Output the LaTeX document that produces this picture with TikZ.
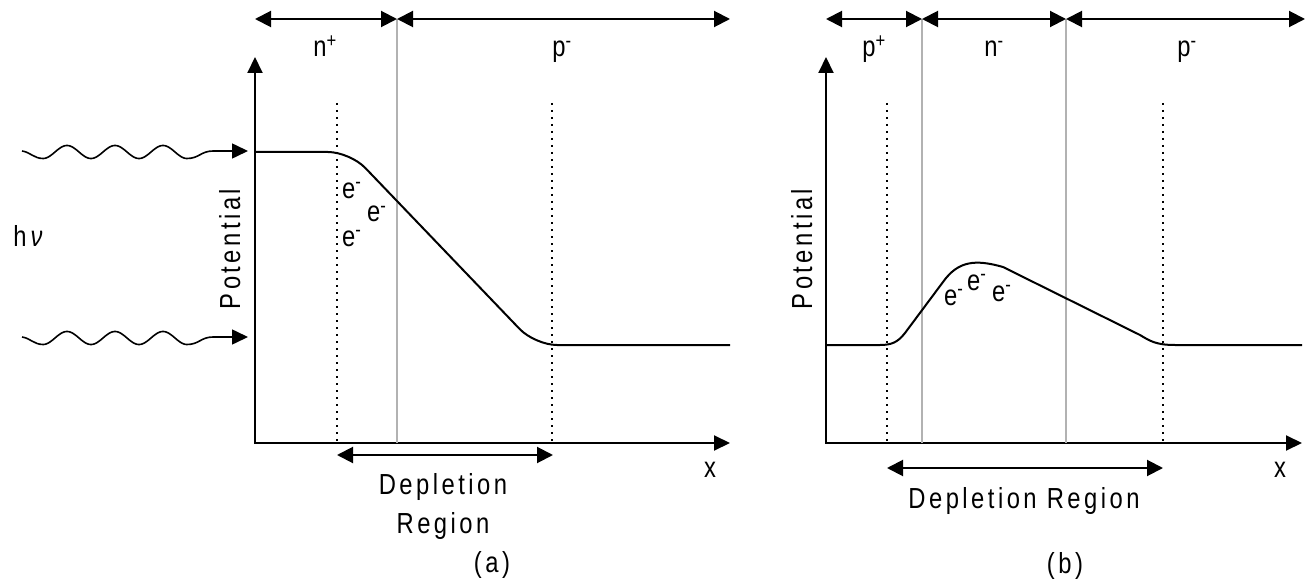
\documentclass[tikz,border=0pt]{standalone}
\usepackage{fontspec}
\setmainfont{Liberation Sans}
\newfontfamily\labfont[FakeStretch=0.82,LetterSpace=12]{Liberation Sans}
\usetikzlibrary{arrows.meta}
\begin{document}
\begin{tikzpicture}[x=1pt,y=-1pt,
  axisline/.style={line width=2pt,{Triangle[length=16pt,width=15pt]}-{Triangle[length=16pt,width=15pt]}},
  dimarrow/.style={line width=2pt,{Triangle[length=16pt,width=16pt]}-{Triangle[length=16pt,width=16pt]}},
  boundary/.style={line width=1.8pt,draw=black!30},
  edgeline/.style={line width=1.8pt,dash pattern=on 2pt off 5pt},
  curve/.style={line width=2pt,line join=round},
  wave/.style={line width=1.6pt,-{Triangle[length=16pt,width=15pt]}},
  lbl/.style={font=\labfont\fontsize{29}{34}\selectfont,inner sep=0pt}]
\useasboundingbox (0,0) rectangle (1310,583);

% ================= panel (a) =================
\coordinate (aY) at (255,57);
\coordinate (aO) at (255,443);
\coordinate (aX) at (730,443);
\draw[axisline] (aY) -- (aO) -- (aX);

\coordinate (aT0) at (255,19);
\coordinate (aT1) at (397,19);
\coordinate (aT2) at (730,19);
\coordinate (aB1) at (397,443);
\draw[boundary] (aT1) -- (aB1);
\draw[dimarrow] (aT0) -- (aT1);
\draw[dimarrow] (aT1) -- (aT2);

\coordinate (aD1t) at (337,103); \coordinate (aD1b) at (337,443);
\coordinate (aD2t) at (552,103); \coordinate (aD2b) at (552,443);
\draw[edgeline] (aD1t) -- (aD1b);
\draw[edgeline] (aD2t) -- (aD2b);

\coordinate (aL0) at (337,455); \coordinate (aL1) at (553,455);
\draw[dimarrow] (aL0) -- (aL1);

\draw[curve,rounded corners=22pt] (255,152) -- (350,152) -- (535,345) -- (730,345);

\foreach \c/\n in {152/1,338/2}{
  \coordinate (w\n s) at (22,\c-1);
  \coordinate (w\n e) at (248,\c-1);
  \draw[wave] (w\n s) .. controls (30,\c) and (34,\c+6.5) .. (43,\c+6.5)
     -- plot[domain=43:187,samples=150] (\x,{\c+6.5*cos(7.5*(\x-43))})
     .. controls (199,\c+6.5) and (201,\c-1) .. (213,\c-1) -- (w\n e);
}

\node[lbl,anchor=base] (hnu) at (28,246) {h\hspace{4pt}{\itshape ν}};
\node[lbl,anchor=base,rotate=90] (apot) at (240,249) {Potential};
\node[lbl,anchor=base] (anp) at (325,57) {n\textsuperscript{+}};
\node[lbl,anchor=base] (apm) at (562,57) {p\textsuperscript{-}};
\node[lbl,anchor=base west] (ae1) at (342,198) {e\textsuperscript{-}};
\node[lbl,anchor=base west] (ae2) at (367,222) {e\textsuperscript{-}};
\node[lbl,anchor=base west] (ae3) at (342,246) {e\textsuperscript{-}};
\node[lbl,anchor=base] (adep) at (443,494) {Depletion};
\node[lbl,anchor=base] (areg) at (443,533) {Region};
\node[lbl,anchor=base] (acap) at (492,572) {(a)};
\node[lbl,anchor=base] (ax) at (710,477) {x};

% ================= panel (b) =================
\coordinate (bY) at (826,57);
\coordinate (bO) at (826,443);
\coordinate (bX) at (1302,443);
\draw[axisline] (bY) -- (bO) -- (bX);

\coordinate (bT0) at (826,19);
\coordinate (bT1) at (922,19);
\coordinate (bT2) at (1066,19);
\coordinate (bT3) at (1305,19);
\coordinate (bB1) at (922,443);
\coordinate (bB2) at (1066,443);
\draw[boundary] (bT1) -- (bB1);
\draw[boundary] (bT2) -- (bB2);
\draw[dimarrow] (bT0) -- (bT1);
\draw[dimarrow] (bT1) -- (bT2);
\draw[dimarrow] (bT2) -- (bT3);

\coordinate (bD1t) at (887,103); \coordinate (bD1b) at (887,443);
\coordinate (bD2t) at (1163,103); \coordinate (bD2b) at (1163,443);
\draw[edgeline] (bD1t) -- (bD1b);
\draw[edgeline] (bD2t) -- (bD2b);

\coordinate (bL0) at (887,468); \coordinate (bL1) at (1163,468);
\draw[dimarrow] (bL0) -- (bL1);

\draw[curve] (826,345) -- (880,345)
  .. controls (892,345) and (898,342) .. (905,333)
  -- (943,282)
  .. controls (958,261) and (975,259) .. (1003,267)
  -- (1140,335)
  .. controls (1150,341) and (1156,345) .. (1175,345)
  -- (1302,345);

\node[lbl,anchor=base,rotate=90] (bpot) at (812,249) {Potential};
\node[lbl,anchor=base] (bpp) at (874,57) {p\textsuperscript{+}};
\node[lbl,anchor=base] (bnm) at (994,57) {n\textsuperscript{-}};
\node[lbl,anchor=base] (bpm) at (1187,57) {p\textsuperscript{-}};
\node[lbl,anchor=base west] (be1) at (944,305) {e\textsuperscript{-}};
\node[lbl,anchor=base west] (be2) at (967,290) {e\textsuperscript{-}};
\node[lbl,anchor=base west] (be3) at (992,301) {e\textsuperscript{-}};
\node[lbl,anchor=base] (bdep) at (1024,508) {Depletion Region};
\node[lbl,anchor=base] (bcap) at (1065,573) {(b)};
\node[lbl,anchor=base] (bx) at (1280,477) {x};
\end{tikzpicture}
\end{document}
